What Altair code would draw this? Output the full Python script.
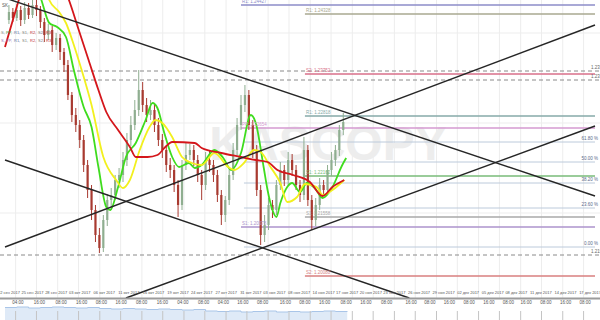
import altair as alt
import pandas as pd

# ---------------- data ----------------
# 4H candles (index t), prices
close = [1.2438, 1.2432, 1.2440, 1.2430, 1.2442, 1.2435, 1.2445, 1.2440, 1.2428, 1.2415,
         1.2420, 1.2405, 1.2412, 1.2398, 1.2385, 1.2355, 1.2335, 1.2325, 1.2310, 1.2285,
         1.2260, 1.2240, 1.2215, 1.2202, 1.2230, 1.2250, 1.2255, 1.2270, 1.2275, 1.2290,
         1.2310, 1.2325, 1.2340, 1.2360, 1.2345, 1.2335, 1.2340, 1.2325, 1.2310, 1.2300,
         1.2285, 1.2280, 1.2265, 1.2245, 1.2285, 1.2295, 1.2300, 1.2290, 1.2275, 1.2265,
         1.2290, 1.2285, 1.2275, 1.2255, 1.2235, 1.2250, 1.2275, 1.2300, 1.2325, 1.2345,
         1.2355, 1.2325, 1.2300, 1.2260, 1.2215, 1.2225, 1.2245, 1.2240, 1.2265, 1.2280,
         1.2270, 1.2290, 1.2280, 1.2265, 1.2255, 1.2300, 1.2250, 1.2230, 1.2245, 1.2265,
         1.2260, 1.2280, 1.2290, 1.2300, 1.2320, 1.2328]
high = [1.2445, 1.2442, 1.2446, 1.2444, 1.2448, 1.2447, 1.2450, 1.2450, 1.2444, 1.2432,
        1.2426, 1.2424, 1.2417, 1.2416, 1.2402, 1.2390, 1.2358, 1.2342, 1.2330, 1.2315,
        1.2290, 1.2265, 1.2245, 1.2222, 1.2235, 1.2256, 1.2262, 1.2275, 1.2282, 1.2298,
        1.2317, 1.2334, 1.2350, 1.2380, 1.2368, 1.2352, 1.2350, 1.2346, 1.2332, 1.2316,
        1.2305, 1.2292, 1.2285, 1.2270, 1.2290, 1.2307, 1.2306, 1.2305, 1.2295, 1.2280,
        1.2298, 1.2300, 1.2290, 1.2280, 1.2260, 1.2254, 1.2282, 1.2307, 1.2332, 1.2355,
        1.2365, 1.2360, 1.2330, 1.2305, 1.2265, 1.2235, 1.2252, 1.2250, 1.2270, 1.2288,
        1.2285, 1.2298, 1.2296, 1.2285, 1.2270, 1.2313, 1.2305, 1.2255, 1.2252, 1.2272,
        1.2270, 1.2285, 1.2298, 1.2305, 1.2325, 1.2337]
low = [1.2426, 1.2428, 1.2429, 1.2424, 1.2426, 1.2431, 1.2432, 1.2434, 1.2422, 1.2408,
       1.2410, 1.2398, 1.2400, 1.2390, 1.2378, 1.2350, 1.2328, 1.2318, 1.2302, 1.2278,
       1.2252, 1.2230, 1.2208, 1.2197, 1.2198, 1.2224, 1.2240, 1.2250, 1.2262, 1.2268,
       1.2284, 1.2304, 1.2320, 1.2334, 1.2338, 1.2328, 1.2330, 1.2318, 1.2304, 1.2292,
       1.2278, 1.2272, 1.2258, 1.2233, 1.2240, 1.2280, 1.2290, 1.2284, 1.2268, 1.2250,
       1.2260, 1.2278, 1.2268, 1.2248, 1.2225, 1.2228, 1.2245, 1.2270, 1.2295, 1.2320,
       1.2338, 1.2320, 1.2292, 1.2254, 1.2205, 1.2208, 1.2220, 1.2232, 1.2235, 1.2260,
       1.2264, 1.2265, 1.2274, 1.2260, 1.2248, 1.2250, 1.2244, 1.2220, 1.2224, 1.2240,
       1.2254, 1.2255, 1.2274, 1.2284, 1.2294, 1.2315]
first_open = 1.2430

# moving averages
green_t = [7.5, 9.25, 11.25, 13.25, 15.5, 17.5, 20, 22, 23.75, 25.75,
           26.75, 28.75, 30.75, 33.25, 35.75, 37.5, 38.75, 40.5, 42.5, 44.25,
           46.75, 48.25, 50, 53.25, 55.5, 57.5, 60, 62.5, 63.75, 65.75,
           66.75, 68, 69, 70, 71.75, 73, 75, 76.75, 78.75, 80.75,
           83.25, 85.75, 86.75]
green_p = [1.2470, 1.2450, 1.2427, 1.2423, 1.2413, 1.2380, 1.2343, 1.2323, 1.2283, 1.2243,
           1.2240, 1.2263, 1.2293, 1.2307, 1.2330, 1.2347, 1.2342, 1.2317, 1.2293, 1.2283,
           1.2287, 1.2282, 1.2285, 1.2300, 1.2292, 1.2280, 1.2297, 1.2335, 1.2327, 1.2283,
           1.2260, 1.2240, 1.2233, 1.2247, 1.2263, 1.2267, 1.2258, 1.2267, 1.2262, 1.2252,
           1.2263, 1.2285, 1.2292]
yellow_t = [10, 11.25, 13.75, 15.5, 17.5, 19.25, 22, 25, 28.25, 30,
            31.75, 34.25, 36.75, 38.25, 40, 42.5, 45, 47.5, 50, 53.25,
            56.75, 58.25, 60.75, 63.25, 65, 67.5, 70, 71.75, 74.25, 76.25,
            79.25, 80.75, 83.25, 86.25]
yellow_p = [1.2465, 1.2450, 1.2438, 1.2427, 1.2405, 1.2383, 1.2345, 1.2293, 1.2270, 1.2262,
            1.2270, 1.2300, 1.2323, 1.2330, 1.2327, 1.2313, 1.2293, 1.2287, 1.2285, 1.2297,
            1.2283, 1.2280, 1.2287, 1.2300, 1.2298, 1.2283, 1.2267, 1.2248, 1.2253, 1.2266,
            1.2263, 1.2255, 1.2260, 1.2270]
red_t = [0, 2, 3.5, 6.25, 11.25, 16.25, 18.75, 21.25, 23.75, 25.75,
         28.75, 31.75, 33.25, 36.25, 38.75, 40.75, 42.5, 48.25, 50, 55,
         60, 63.75, 66.75, 69.25, 73.25, 77.5, 80.75, 83.25, 86.25]
red_p = [1.2403, 1.2430, 1.2450, 1.2490, 1.2490, 1.2450, 1.2420, 1.2390, 1.2360, 1.2338,
         1.2320, 1.2303, 1.2293, 1.2293, 1.2295, 1.2303, 1.2308, 1.2307, 1.2302, 1.2297,
         1.2293, 1.2290, 1.2288, 1.2280, 1.2275, 1.2268, 1.2254, 1.2263, 1.2270]

# trend lines (start t, start price, end t, end price)
trend_t0 = [0, 0, 0, 30.75]
trend_p0 = [1.2452, 1.2290, 1.2203, 1.2152]
trend_t1 = [150, 102.8, 150, 150]
trend_p1 = [1.2254, 1.2152, 1.2425, 1.2324]

# pivot levels
level_names = ["R1: 1.24427", "R1: 1.24328", "S2: 1.23752", "R1: 1.22818", "PP: 1.22654",
               "S1: 1.22162", "S1: 1.21558", "S1: 1.20378", "S2: 1.20080"]
level_price = [1.2445, 1.2436, 1.2376, 1.2334, 1.2322, 1.2274, 1.2233, 1.2223, 1.2174]
level_start = [60, 76.25, 76.25, 76.25, 60, 76.25, 76.25, 60, 76.25]
level_colors = ["#8c8cc8", "#a8a890", "#d86f8a", "#86aaa8", "#d59ad0",
                "#78bb78", "#a8a8a8", "#ad93cc", "#d87f7f"]

# fibonacci levels
fib_labels = ["61.80 %", "50.00 %", "38.20 %", "23.60 %", "0.00 %"]
fib_price = [1.2308, 1.2288, 1.2267, 1.2242, 1.2203]
fib_start = 60.75

# dashed horizontal levels
dash_price = [1.2379, 1.2370, 1.2195]
dash_labels = ["1.23790", "1.23700", "1.21950"]

# grid
grid_t = [2.7, 8.0, 13.4, 18.7, 24.1, 29.4, 34.8, 40.1, 45.5, 50.8, 56.2, 61.5, 66.9, 72.2,
          77.6, 82.9, 88.3, 93.6, 99.0, 104.3, 109.7, 115.0, 120.4, 125.7, 131.1, 136.4,
          141.8, 147.1]
grid_p = [1.2417, 1.2327, 1.2237]

# axis labels
date_labels = ["22 сен 2017", "25 сен 2017", "28 сен 2017", "03 окт 2017", "06 окт 2017",
               "11 окт 2017", "16 окт 2017", "19 окт 2017", "24 окт 2017", "27 окт 2017",
               "31 окт 2017", "03 ноя 2017", "08 ноя 2017", "14 ноя 2017", "17 ноя 2017",
               "20 ноя 2017", "23 ноя 2017", "26 ноя 2017", "29 ноя 2017", "02 дек 2017",
               "05 дек 2017", "08 дек 2017", "11 дек 2017", "14 дек 2017", "17 дек 2017"]
date_t = [1, 7, 13, 19, 25.25, 31.5, 37.75, 44, 50, 56.25, 62.5, 68.5, 74.75, 81, 87, 93,
          99, 105.25, 111.5, 117.75, 124, 130, 136.25, 142.5, 148.75]
time_labels = ["04:00", "16:00", "08:00", "16:00", "08:00", "16:00", "08:00", "16:00", "04:00",
               "08:00", "04:00", "16:00", "08:00", "16:00", "08:00", "16:00", "08:00", "16:00",
               "08:00", "16:00", "08:00", "16:00", "08:00", "16:00", "08:00", "16:00", "08:00",
               "16:00", "08:00"]
time_t = [3.25, 8.75, 14.25, 19.5, 24.5, 29.5, 34.75, 40, 45.25, 50.5, 55.5, 60.5, 65.5,
          71.25, 76.25, 81.25, 86.75, 91.75, 97, 103.25, 108, 113, 118, 123, 128, 132.5,
          137.5, 142.5, 147.5]

# volume
vol_t = [0, 3, 6, 9, 12, 15, 18, 21, 24, 27, 30, 33, 36, 39, 42, 45, 48, 51, 54, 57,
         60, 63, 66, 69, 72, 75, 78, 81, 84, 87]
vol_v = [12.5, 13, 12, 12.5, 13, 12.5, 12, 12.5, 11.5, 11, 11.5, 11, 10.5, 11, 10.5, 10,
         10.5, 9, 8.5, 9, 8, 8.5, 9, 8, 8.5, 8, 8.5, 9, 8.5, 9]

# pivot legend rows
legend_tokens = ["S,", "PP,", "R1,", "S1,", "R2,", "S2,", "R3"]

# ---------------- frames ----------------
n = len(close)
candles = pd.DataFrame({
    "t": list(range(1, n + 1)),
    "open": [first_open] + close[:-1],
    "close": close, "high": high, "low": low,
})
candles["dir"] = ["up" if c >= o else "down" for o, c in zip(candles["open"], candles["close"])]

ma = pd.concat([
    pd.DataFrame({"t": green_t, "price": green_p, "series": "green"}),
    pd.DataFrame({"t": yellow_t, "price": yellow_p, "series": "yellow"}),
    pd.DataFrame({"t": red_t, "price": red_p, "series": "red"}),
])
trend = pd.DataFrame({"t0": trend_t0, "p0": trend_p0, "t1": trend_t1, "p1": trend_p1,
                      "id": list(range(len(trend_t0)))})
levels = pd.DataFrame({"name": level_names, "price": level_price, "t0": level_start,
                       "t1": [150] * len(level_names)})
fibs = pd.DataFrame({"label": fib_labels, "price": fib_price, "t0": fib_start, "t1": 150})
dashes = pd.DataFrame({"price": dash_price, "label": dash_labels})
grid_v = pd.DataFrame({"t": grid_t})
grid_h = pd.DataFrame({"price": grid_p})
dates = pd.DataFrame({"t": date_t, "label": date_labels})
times = pd.DataFrame({"t": time_t, "label": time_labels})
vol = pd.DataFrame({"t": vol_t, "v": vol_v})

# ---------------- scales ----------------
XS = alt.Scale(domain=[0, 150], nice=False, zero=False)
PS = alt.Scale(domain=[1.2130, 1.2450], nice=False, zero=False)
VS = alt.Scale(domain=[0, 320], nice=False, zero=True)
FONT = "Liberation Sans"


def X(f="t"):
    return alt.X(f"{f}:Q", scale=XS, axis=None)


def Y(f="price"):
    return alt.Y(f"{f}:Q", scale=PS, axis=None)


layers = []

# grid
layers.append(alt.Chart(grid_v).mark_rule(color="#ededed", strokeWidth=1).encode(
    x=X(), y=alt.value(0), y2=alt.value(298)))
layers.append(alt.Chart(grid_h).mark_rule(color="#ededed", strokeWidth=1).encode(
    y=Y(), x=alt.value(0), x2=alt.value(600)))

# watermark
layers.append(alt.Chart(pd.DataFrame({"w": ["KASCOPY"]})).mark_text(
    fontSize=48, fontWeight="bold", font="Liberation Sans", color="#ededed",
    align="center", baseline="middle").encode(
    x=alt.value(328), y=alt.value(146), text="w:N"))

# dashed levels
layers.append(alt.Chart(dashes).mark_rule(color="#8a8a8a", strokeWidth=1,
                                          strokeDash=[4, 3]).encode(
    y=Y(), x=alt.value(0), x2=alt.value(600)))

# fib levels
layers.append(alt.Chart(fibs).mark_rule(color="#bccadb", strokeWidth=1).encode(
    x=X("t0"), x2="t1", y=Y()))

# pivot levels
level_color = alt.Color("name:N", scale=alt.Scale(domain=level_names, range=level_colors),
                        legend=None)
layers.append(alt.Chart(levels).mark_rule(strokeWidth=1.6).encode(
    x=X("t0"), x2="t1", y=Y(), color=level_color))

# candles
cdir = alt.Color("dir:N", scale=alt.Scale(domain=["up", "down"],
                                          range=["#8fae90", "#a83a30"]), legend=None)
layers.append(alt.Chart(candles).mark_rule(strokeWidth=1, clip=True).encode(
    x=X(), y=Y("low"), y2="high", color=cdir))
layers.append(alt.Chart(candles).mark_bar(size=2.2, clip=True).encode(
    x=X(), y=Y("open"), y2="close", color=cdir))

# moving averages
layers.append(alt.Chart(ma).mark_line(interpolate="monotone", strokeWidth=1.8,
                                      clip=True).encode(
    x=X(), y=Y(),
    color=alt.Color("series:N", scale=alt.Scale(domain=["red", "yellow", "green"],
                                                range=["#d4161b", "#f2f01e", "#3fdc1e"]),
                    legend=None),
    detail="series:N"))

# trend lines
layers.append(alt.Chart(trend).mark_rule(color="#262626", strokeWidth=1.4, clip=True).encode(
    x=X("t0"), x2="t1", y=Y("p0"), y2="p1"))

# level labels
layers.append(alt.Chart(levels).mark_text(align="left", baseline="bottom", dx=1, dy=-1,
                                          fontSize=4.5, font=FONT).encode(
    x=X("t0"), y=Y(), text="name:N", color=level_color))
layers.append(alt.Chart(fibs).mark_text(align="right", baseline="bottom", dy=-1,
                                        fontSize=4.5, font=FONT, color="#5a6a8a").encode(
    x=alt.value(598), y=Y(), text="label:N"))
layers.append(alt.Chart(dashes).mark_text(align="left", baseline="bottom", dy=-1,
                                          fontSize=4.5, font=FONT, color="#666").encode(
    x=alt.value(591), y=Y(), text="label:N"))

# date labels
layers.append(alt.Chart(dates).mark_text(fontSize=4, font=FONT, color="#555",
                                         baseline="middle").encode(
    x=X(), y=alt.value(293), text="label:N"))

# volume
layers.append(alt.Chart(vol).mark_area(color="#d2e1f4", line={"color": "#a9c5e8",
                                                              "strokeWidth": 1},
                                       interpolate="step-after", clip=True).encode(
    x=X(), y=alt.Y("v:Q", scale=VS, axis=None)))
layers.append(alt.Chart(grid_v).mark_rule(color="#c4c4c4", strokeWidth=1).encode(
    x=X(), y=alt.value(311), y2=alt.value(320)))

# axis line and time labels
layers.append(alt.Chart(pd.DataFrame({"a": [0]})).mark_rule(
    color="#9c9c9c", strokeWidth=2).encode(
    x=alt.value(0), x2=alt.value(600), y=alt.value(298.5)))
layers.append(alt.Chart(times).mark_text(fontSize=4.5, font=FONT, color="#555",
                                         baseline="middle").encode(
    x=X(), y=alt.value(303), text="label:N"))

# top-left header and pivot legend rows
layers.append(alt.Chart(pd.DataFrame({"s": ["SK"]})).mark_text(
    fontSize=4.5, font=FONT, color="#555", align="left", baseline="middle").encode(
    x=alt.value(2), y=alt.value(6), text="s:N"))
row1_colors = ["#888888", "#3a9a3a", "#5a6fa0", "#7a7a7a", "#c03030", "#7a7a7a", "#c03030"]
row2_colors = ["#9a6ab0", "#9a6ab0", "#5a6fa0", "#7a7a7a", "#c03030", "#7a7a7a", "#c03030"]
tok_x = [1, 6, 14, 22, 30, 38, 46]
for row_y, cols in ((33, row1_colors), (41, row2_colors)):
    for tok, cx, col in zip(legend_tokens, tok_x, cols):
        layers.append(alt.Chart(pd.DataFrame({"s": [tok]})).mark_text(
            fontSize=4, font=FONT, color=col, align="left", baseline="middle").encode(
            x=alt.value(cx), y=alt.value(row_y), text="s:N"))

chart = alt.layer(*layers).resolve_scale(y="independent", color="independent").properties(
    width=600, height=320,
    autosize=alt.AutoSizeParams(type="none"),
    padding=0,
    background="white",
).configure_view(stroke=None)

chart.save("out.html", embed_options={"renderer": "svg", "actions": False})
